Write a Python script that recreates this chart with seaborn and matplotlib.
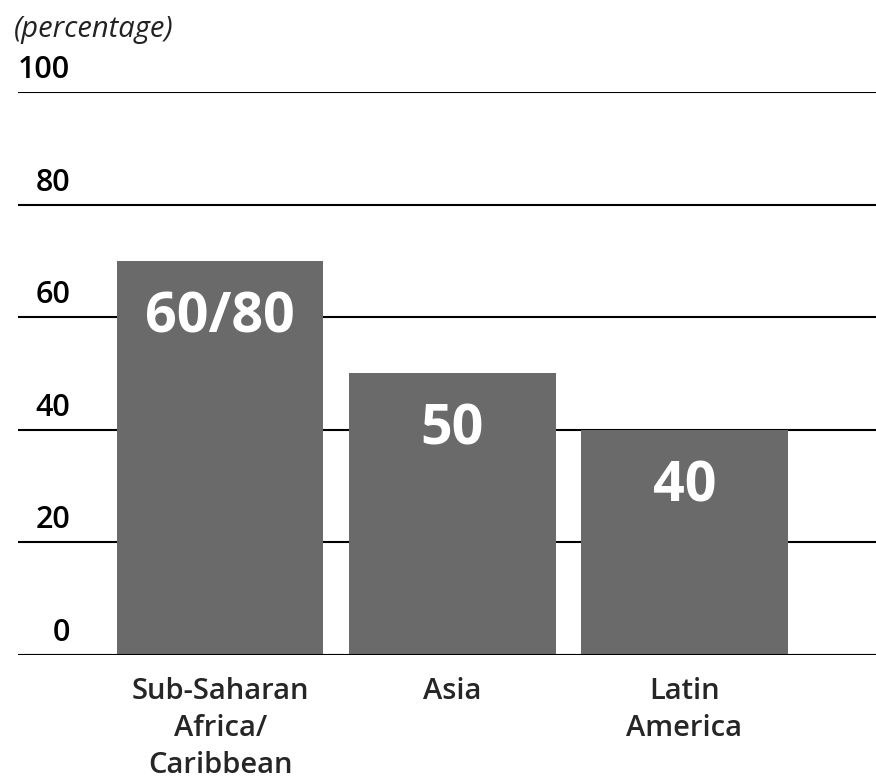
import matplotlib
matplotlib.use("Agg")
import matplotlib.pyplot as plt
import seaborn as sns
import pandas as pd

# Regions and share ranges (percentage); a range is drawn at its midpoint
regions = ["Sub-Saharan\nAfrica/\nCaribbean", "Asia", "Latin\nAmerica"]
share_low = [60, 50, 40]
share_high = [80, 50, 40]
y_ticks = [0, 20, 40, 60, 80, 100]

share_mid = [(lo + hi) / 2 for lo, hi in zip(share_low, share_high)]
value_labels = [f"{lo}/{hi}" if lo != hi else f"{lo}" for lo, hi in zip(share_low, share_high)]

df = pd.DataFrame({"region": regions, "share": share_mid})

sns.set_style("white")
plt.rcParams["font.family"] = ["Open Sans", "DejaVu Sans"]

fig = plt.figure(figsize=(8.76, 7.82), dpi=100)
ax = fig.add_axes([0.0205, 0.1624, 0.9795, 0.72])

sns.barplot(data=df, x="region", y="share", color="#6a6a6a", saturation=1,
            width=0.89, ax=ax, zorder=3, linewidth=0)

ax.set_ylim(0, 100)
ax.set_xlim(-0.871, 2.825)
ax.set_yticks(y_ticks)
ax.set_yticklabels([])
ax.tick_params(axis="y", length=0)
ax.yaxis.grid(True, color="black", linewidth=1.5)
ax.set_axisbelow(True)
for s in ax.spines.values():
    s.set_visible(False)
ax.axhline(0, color="black", linewidth=2.2, zorder=4)

ax.set_xlabel("")
ax.set_ylabel("")
ax.tick_params(axis="x", length=0, pad=16)
for lbl in ax.get_xticklabels():
    lbl.set_fontsize(21)
    lbl.set_fontweight("semibold")
    lbl.set_linespacing(1.35)
    lbl.set_verticalalignment("top")

# y values written just above their gridlines
for t in y_ticks:
    ax.annotate(str(t), xy=(0, t), xycoords=ax.get_yaxis_transform(),
                xytext=(37.5, 5), textcoords="offset points",
                ha="right", va="bottom", fontsize=22, fontweight="semibold",
                color="black")

# value labels inside the bars
for i, (h, txt) in enumerate(zip(share_mid, value_labels)):
    ax.annotate(txt, xy=(i, h), xytext=(0, -41), textcoords="offset points",
                ha="center", va="center", fontsize=40, fontweight="bold",
                color="white", zorder=5)

fig.text(0.016, 0.962, "(percentage)", fontsize=21, fontstyle="italic",
         ha="left", va="center", color="#222222")

fig.savefig("out.png", dpi=100)
